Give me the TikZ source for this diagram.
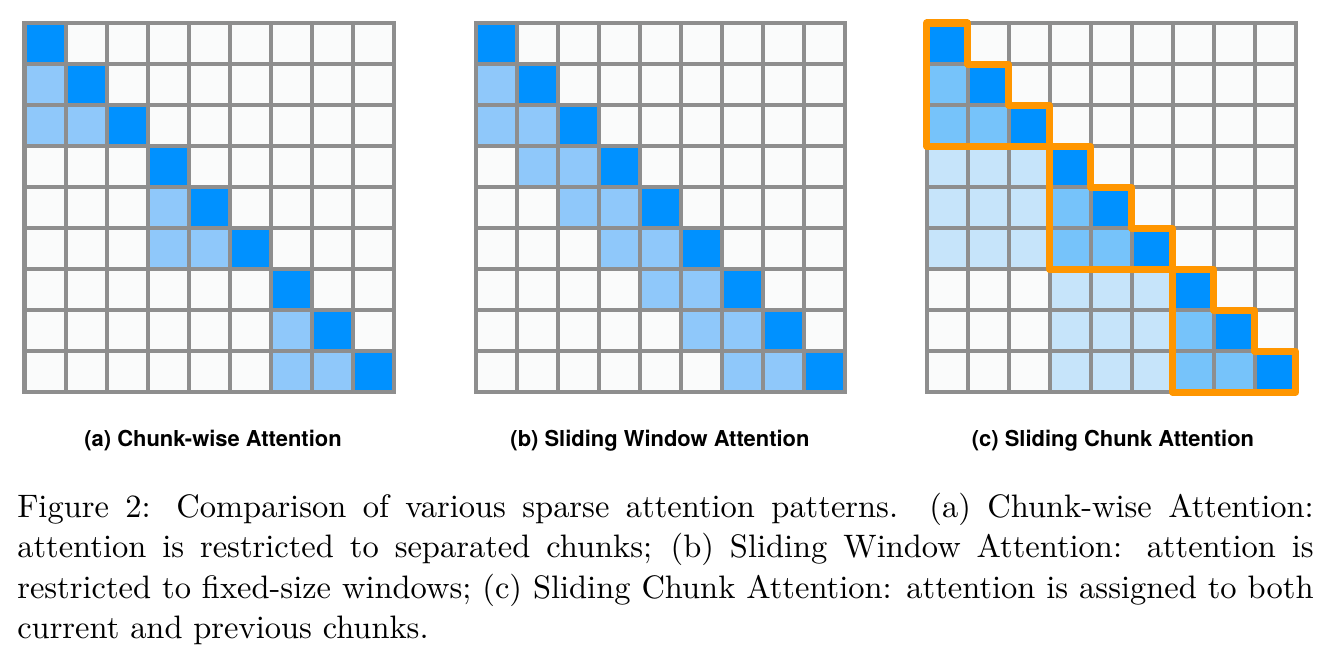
\documentclass[tikz,border=0pt]{standalone}
\usepackage{fontspec}
\usepackage{xcolor}
\usepackage{tikz}
\usetikzlibrary{positioning}
\newfontfamily\panelfont{TeX Gyre Heros}
\newfontfamily\capfont{lmroman10-regular}[Extension=.otf]
\definecolor{AttnDark}   {RGB}{  0, 145, 255}
\definecolor{AttnLight}  {RGB}{143, 200, 250}
\definecolor{AttnMid}    {RGB}{118, 195, 250}
\definecolor{AttnPale}   {RGB}{198, 228, 250}
\definecolor{GridGrey}   {RGB}{142, 142, 142}
\definecolor{CellBg}     {RGB}{250, 251, 251}
\definecolor{ChunkOrange}{RGB}{255, 150,   0}
\tikzset{
  gridline/.style={draw=GridGrey, line width=2.85pt, line cap=rect},
  chunkline/.style={draw=ChunkOrange, line width=5pt, line join=round},
  panellabel/.style={font=\panelfont\bfseries\fontsize{15.6}{18}\selectfont},
  captiontext/.style={font=\capfont\fontsize{23.1}{28.6}\selectfont, inner sep=0pt,
    text width=32.4cm, align=justify, anchor=north west},
}
% one cell of the attention matrix: colour, row, column
\newcommand{\attcell}[3]{\fill[#1] (#3,#2) rectangle ++(1,1);}
% the 9x9 grid lines
\newcommand{\attgrid}{%
  \foreach \k in {0,...,9} {
    \draw[gridline] (\k,0) -- (\k,9);
    \draw[gridline] (0,\k) -- (9,\k);
  }%
}

\begin{document}
\begin{tikzpicture}[x=0.025cm, y=-0.025cm]
      \useasboundingbox (0,0) rectangle (1331,660);
      \fill[white] (0,0) rectangle (1331,660);
      % (a) chunk-wise attention
      \begin{scope}[shift={(24.5,23)}, x=1.025cm, y=-1.025cm]
        \fill[CellBg] (0,0) rectangle (9,9);
        \foreach \k in {0,...,8} {\attcell{AttnDark}{\k}{\k}}
        \foreach \c in {0,3,6} {
          \attcell{AttnLight}{\c+1}{\c}
          \attcell{AttnLight}{\c+2}{\c}
          \attcell{AttnLight}{\c+2}{\c+1}
        }
        \attgrid
      \end{scope}
      % (b) sliding window attention
      \begin{scope}[shift={(475.5,23)}, x=1.025cm, y=-1.025cm]
        \fill[CellBg] (0,0) rectangle (9,9);
        \foreach \k in {0,...,8} {\attcell{AttnDark}{\k}{\k}}
        \foreach \k in {1,...,8} {\attcell{AttnLight}{\k}{\k-1}}
        \foreach \k in {2,...,8} {\attcell{AttnLight}{\k}{\k-2}}
        \attgrid
      \end{scope}
      % (c) sliding chunk attention
      \begin{scope}[shift={(926.5,23)}, x=1.025cm, y=-1.025cm]
        \fill[CellBg] (0,0) rectangle (9,9);
        \foreach \k in {0,...,8} {\attcell{AttnDark}{\k}{\k}}
        \foreach \c in {0,3,6} {
          \attcell{AttnMid}{\c+1}{\c}
          \attcell{AttnMid}{\c+2}{\c}
          \attcell{AttnMid}{\c+2}{\c+1}
        }
        \foreach \c in {3,6} {\fill[AttnPale] (\c-3,\c) rectangle (\c,\c+3);}
        \attgrid
        % current chunk outlines
        \foreach \c in {0,3,6} {
          \draw[chunkline] (\c,\c) -- (\c+1,\c) -- (\c+1,\c+1) -- (\c+2,\c+1)
            -- (\c+2,\c+2) -- (\c+3,\c+2) -- (\c+3,\c+3) -- (\c,\c+3) -- cycle;
        }
      \end{scope}
      % panel titles
      \node[panellabel] (labelA) at (213,441)  {(a) Chunk-wise Attention};
      \node[panellabel] (labelB) at (660,441)  {(b) Sliding Window Attention};
      \node[panellabel] (labelC) at (1113,441) {(c) Sliding Chunk Attention};
      % caption
      \node[captiontext] (caption) at (17,493)
        {Figure 2: Comparison of various sparse attention patterns. (a) Chunk-wise Attention:\linebreak
         attention is restricted to separated chunks; (b) Sliding Window Attention: attention is\linebreak
         restricted to fixed-size windows; (c) Sliding Chunk Attention: attention is assigned to both\linebreak
         current and previous chunks.};
    \end{tikzpicture}
\end{document}
